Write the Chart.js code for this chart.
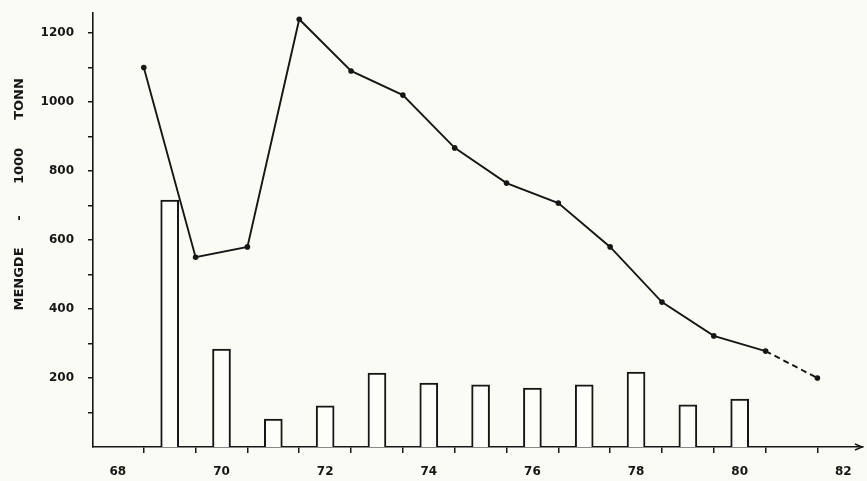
<!DOCTYPE html>
<html>
<head>
<meta charset="utf-8">
<script src="https://cdn.jsdelivr.net/npm/chart.js@4.4.1/dist/chart.umd.min.js"></script>
<style>
  body { margin: 0; background: #fbfbf6; }
  #wrap { width: 867px; height: 481px; position: relative; }
</style>
</head>
<body>
<div id="wrap"><canvas id="chart"></canvas></div>
<script>
// --------------- Data -----------------
const lineYears = [68.5, 69.5, 70.5, 71.5, 72.5, 73.5, 74.5, 75.5, 76.5, 77.5, 78.5, 79.5, 80.5, 81.5];
const lineValues = [1100, 550, 580, 1240, 1090, 1020, 867, 765, 707, 580, 420, 322, 278, 200];
const barYears = [69, 70, 71, 72, 73, 74, 75, 76, 77, 78, 79, 80];
const barValues = [716, 284, 81, 119, 214, 185, 180, 171, 180, 217, 122, 139];
const xLabelYears = [68, 70, 72, 74, 76, 78, 80, 82];
const yLabelValues = [200, 400, 600, 800, 1000, 1200];
const yTitleWords = ["MENGDE", "-", "1000", "TONN"];

const ink = "#161616";
const tickFont = { family: "DejaVu Sans", size: 12, weight: "bold" };

// --------------- Plugins -----------------
const yTitlePlugin = {
  id: "yTitle",
  afterDraw(chart) {
    const ctx = chart.ctx;
    // word centres along the axis (from bottom to top)
    const centres = [279, 218, 166, 99];
    ctx.save();
    ctx.fillStyle = ink;
    ctx.font = "bold 13px 'DejaVu Sans'";
    ctx.textAlign = "center";
    ctx.textBaseline = "middle";
    yTitleWords.forEach((w, i) => {
      ctx.save();
      ctx.translate(20, centres[i]);
      ctx.rotate(-Math.PI / 2);
      ctx.fillText(w, 0, 0);
      ctx.restore();
    });
    ctx.restore();
  }
};

const arrowPlugin = {
  id: "xArrow",
  afterDraw(chart) {
    const { ctx, chartArea } = chart;
    const x = chartArea.right - 1, y = chartArea.bottom;
    ctx.save();
    ctx.strokeStyle = ink;
    ctx.lineWidth = 1.5;
    ctx.beginPath();
    ctx.moveTo(x - 7, y - 3);
    ctx.lineTo(x, y);
    ctx.lineTo(x - 7, y + 3);
    ctx.stroke();
    ctx.restore();
  }
};

const noPad = s => {
  s.paddingTop = 0;
  s.paddingBottom = 0;
  s.paddingLeft = 0;
  s.paddingRight = 0;
};

// --------------- Chart -----------------
const ctx = document.getElementById("chart").getContext("2d");
const lastIdx = lineYears.length - 2;

new Chart(ctx, {
  type: "bar",
  data: {
    datasets: [
      {
        type: "line",
        data: lineYears.map((x, i) => ({ x: x, y: lineValues[i] })),
        borderColor: ink,
        borderWidth: 1.9,
        pointRadius: 2.8,
        pointBackgroundColor: ink,
        pointBorderWidth: 0,
        tension: 0,
        order: 0,
        segment: {
          borderDash: c => (c.p0DataIndex === lastIdx ? [6, 4] : undefined)
        }
      },
      {
        type: "bar",
        data: barYears.map((x, i) => ({ x: x, y: barValues[i] })),
        backgroundColor: "#fdfdf9",
        borderColor: ink,
        borderWidth: 2,
        barThickness: 18,
        order: 1
      }
    ]
  },
  options: {
    responsive: true,
    maintainAspectRatio: false,
    animation: false,
    layout: { padding: { top: 13, right: 0, left: 0, bottom: 0 } },
    plugins: { legend: { display: false }, tooltip: { enabled: false } },
    scales: {
      x: {
        type: "linear",
        offset: false,
        min: 67.52,
        max: 82.38,
        afterBuildTicks: s => {
          const t = [];
          for (let v = 68; v <= 82; v += 0.5) t.push({ value: v });
          s.ticks = t;
        },
        afterFit: s => { s.height = 34; noPad(s); },
        border: { display: true, color: ink, width: 1.6 },
        grid: {
          offset: false,
          drawOnChartArea: false,
          drawTicks: true,
          tickLength: 6,
          lineWidth: 1.5,
          color: c => (c.tick && c.tick.value % 1 !== 0 ? ink : "rgba(0,0,0,0)")
        },
        ticks: {
          autoSkip: false,
          maxRotation: 0,
          padding: 12,
          color: ink,
          font: tickFont,
          callback: v => (xLabelYears.includes(v) ? String(v) : "")
        }
      },
      y: {
        min: 0,
        max: 1258,
        afterBuildTicks: s => {
          const t = [];
          for (let v = 100; v <= 1200; v += 100) t.push({ value: v });
          s.ticks = t;
        },
        afterFit: s => { s.width = 93; noPad(s); },
        border: { display: true, color: ink, width: 1.6 },
        grid: {
          drawOnChartArea: false,
          drawTicks: true,
          tickLength: 5,
          lineWidth: 1.5,
          color: ink
        },
        ticks: {
          autoSkip: false,
          padding: 14,
          color: ink,
          font: tickFont,
          callback: v => (yLabelValues.includes(v) ? String(v) : "")
        }
      }
    }
  },
  plugins: [yTitlePlugin, arrowPlugin]
});
</script>
</body>
</html>
